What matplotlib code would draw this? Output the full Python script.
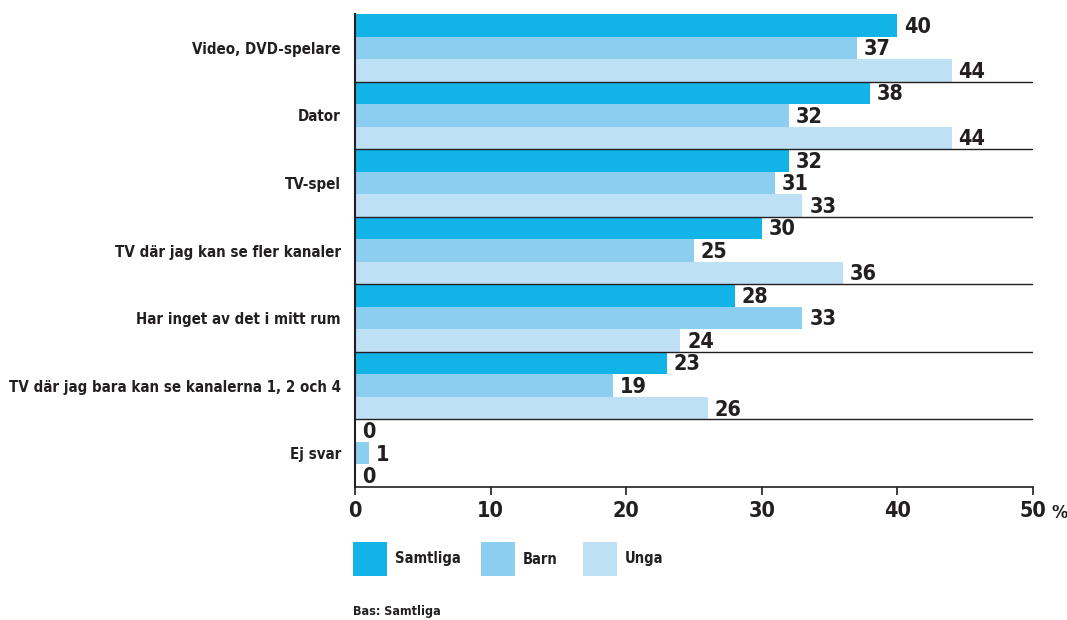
import matplotlib.pyplot as plt
from matplotlib.patches import Rectangle

categories = ["Video, DVD-spelare", "Dator", "TV-spel", "TV där jag kan se fler kanaler",
              "Har inget av det i mitt rum", "TV där jag bara kan se kanalerna 1, 2 och 4", "Ej svar"]
samtliga = [40, 38, 32, 30, 28, 23, 0]
barn = [37, 32, 31, 25, 33, 19, 1]
unga = [44, 44, 33, 36, 24, 26, 0]
series_names = ["Samtliga", "Barn", "Unga"]
colors = ["#12b4e8", "#8ccef0", "#bde0f5"]
xticks = [0, 10, 20, 30, 40, 50]

plt.rcParams['font.family'] = ['DejaVu Sans']
plt.rcParams['font.stretch'] = 'condensed'
txt = "#231f20"

W, H = 1067, 620
fig = plt.figure(figsize=(W / 100, H / 100), dpi=100)
ax = fig.add_axes([355 / W, 1 - 487 / H, (1033 - 355) / W, (487 - 14) / H])

h = 1 / 3
for j, vals in enumerate([samtliga, barn, unga]):
    ys = [i + (j + 0.5) * h for i in range(len(categories))]
    ax.barh(ys, vals, height=h, color=colors[j], linewidth=0)
    for y, v in zip(ys, vals):
        ax.text(v + 0.5, y + 0.02, str(v), va="center", ha="left", fontsize=15.5,
                fontweight="bold", color=txt)

for i in range(1, len(categories)):
    ax.axhline(i, color="#231f20", lw=1.0)

ax.set_ylim(len(categories), 0)
ax.set_xlim(0, 50)
ax.set_yticks([i + 0.5 for i in range(len(categories))])
ax.set_yticklabels(categories, fontsize=10.8, fontweight="bold", color=txt)
ax.tick_params(axis="y", length=0, pad=10)
ax.set_xticks(xticks)
ax.set_xticklabels([str(t) for t in xticks], fontsize=15.5, fontweight="bold", color=txt)
ax.tick_params(axis="x", direction="out", length=6, width=1.2, color=txt, pad=4)
for s in ["top", "right"]:
    ax.spines[s].set_visible(False)
ax.spines["left"].set_linewidth(1.5)
ax.spines["bottom"].set_linewidth(1.2)
ax.spines["left"].set_color(txt)
ax.spines["bottom"].set_color(txt)
fig.text(1051 / W, 1 - 513 / H, "%", fontsize=13, fontweight="bold", color=txt,
         ha="left", va="center")

# legend
for x0, name, c in zip([353, 481, 583], series_names, colors):
    fig.add_artist(Rectangle((x0 / W, 1 - 576 / H), 34 / W, 34 / H,
                             transform=fig.transFigure, color=c, lw=0))
    fig.text((x0 + 42) / W, 1 - 559 / H, name, fontsize=10.5, fontweight="bold",
             color=txt, ha="left", va="center")
fig.text(353 / W, 1 - 612 / H, "Bas: Samtliga", fontsize=9, fontweight="bold",
         color=txt, ha="left", va="center")

fig.savefig("out.png", dpi=100)
